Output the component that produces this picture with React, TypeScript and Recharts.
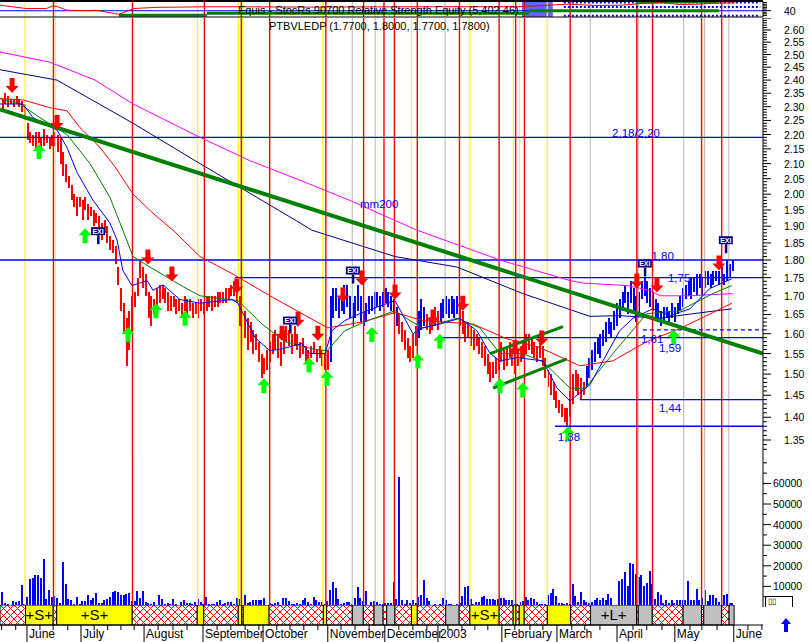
import React from 'react'
import {
    ComposedChart,
    Bar,
    Line,
    Scatter,
    XAxis,
    YAxis,
    ReferenceLine,
    ReferenceArea,
    Cell,
} from 'recharts'

/* ---------- layout ---------- */

const W = 811
const AXIS_W = 48
const X_DOMAIN: [number, number] = [-1, 276]
const P_DOMAIN: [number, number] = [1.318, 2.6504]
const FONT = "'Liberation Sans', Arial, Helvetica, sans-serif"
const BLUE = '#0000ff'
const RED = '#ff0000'
const NAVY = '#000080'
const DKGREEN = '#008000'

/* ---------- sessions: [low, high] ---------- */

const barsMayJun02 = [
    [2.29, 2.33], [2.31, 2.35], [2.30, 2.34], [2.31, 2.33], [2.30, 2.33], [2.31, 2.34], [2.30, 2.33], [2.28, 2.32], [2.25, 2.31],
    [2.18, 2.24], [2.17, 2.21], [2.16, 2.20], [2.15, 2.21], [2.17, 2.21], [2.14, 2.19], [2.16, 2.22], [2.17, 2.20], [2.15, 2.19], [2.16, 2.20],
    [2.16, 2.21], [2.14, 2.20], [2.10, 2.19], [2.06, 2.14], [2.04, 2.10], [2.02, 2.06], [1.98, 2.03], [1.96, 2.00], [1.93, 1.99], [1.96, 1.99],
]
const barsJulAug02 = [
    [1.92, 1.98], [1.95, 1.99], [1.92, 1.97], [1.93, 1.96], [1.90, 1.95], [1.91, 1.94], [1.88, 1.93], [1.86, 1.91], [1.88, 1.92], [1.85, 1.90],
    [1.83, 1.87], [1.82, 1.86], [1.79, 1.84], [1.73, 1.78], [1.66, 1.72], [1.60, 1.68], [1.52, 1.64], [1.56, 1.66], [1.60, 1.70], [1.67, 1.71],
    [1.70, 1.75], [1.75, 1.80], [1.72, 1.78], [1.70, 1.76], [1.64, 1.71], [1.62, 1.70], [1.65, 1.69], [1.66, 1.72], [1.68, 1.73], [1.69, 1.73],
    [1.68, 1.72], [1.66, 1.71], [1.66, 1.70], [1.67, 1.70], [1.65, 1.69], [1.66, 1.69], [1.64, 1.68], [1.66, 1.70], [1.65, 1.69], [1.66, 1.69],
    [1.64, 1.68], [1.65, 1.68], [1.64, 1.69], [1.66, 1.69],
]
const barsSepOct02 = [
    [1.65, 1.68], [1.66, 1.70], [1.67, 1.70], [1.66, 1.70], [1.67, 1.70], [1.67, 1.71], [1.68, 1.71], [1.68, 1.71], [1.68, 1.72], [1.69, 1.72],
    [1.70, 1.73], [1.70, 1.74], [1.68, 1.73], [1.62, 1.70], [1.57, 1.66], [1.59, 1.66], [1.56, 1.64], [1.58, 1.63], [1.55, 1.61], [1.56, 1.60],
    [1.53, 1.58], [1.49, 1.55], [1.50, 1.54], [1.51, 1.56], [1.53, 1.58], [1.55, 1.60], [1.56, 1.61], [1.54, 1.60], [1.52, 1.58], [1.55, 1.61],
    [1.58, 1.62], [1.57, 1.61], [1.55, 1.60], [1.57, 1.62], [1.56, 1.60], [1.54, 1.58], [1.55, 1.59], [1.53, 1.57], [1.52, 1.56], [1.54, 1.57],
    [1.55, 1.58], [1.53, 1.56], [1.54, 1.57], [1.52, 1.56], [1.51, 1.55],
]
const barsNovDec02 = [
    [1.51, 1.56], [1.53, 1.70], [1.64, 1.72], [1.66, 1.72], [1.64, 1.70], [1.66, 1.71], [1.65, 1.73], [1.67, 1.73], [1.64, 1.70], [1.62, 1.68],
    [1.64, 1.70], [1.66, 1.73], [1.63, 1.70], [1.62, 1.66], [1.63, 1.68], [1.65, 1.70], [1.66, 1.70], [1.65, 1.71], [1.67, 1.71], [1.66, 1.70],
    [1.67, 1.71], [1.68, 1.72], [1.67, 1.71], [1.66, 1.70], [1.65, 1.69], [1.62, 1.67], [1.60, 1.65], [1.58, 1.63], [1.56, 1.61], [1.54, 1.59],
    [1.53, 1.57], [1.54, 1.60], [1.57, 1.62], [1.59, 1.66], [1.61, 1.69], [1.62, 1.67], [1.61, 1.65], [1.60, 1.64], [1.61, 1.66], [1.62, 1.67],
]
const barsJanFeb03 = [
    [1.61, 1.66], [1.63, 1.68], [1.64, 1.69], [1.65, 1.70], [1.64, 1.69], [1.65, 1.70], [1.64, 1.69], [1.65, 1.70], [1.62, 1.68], [1.60, 1.66],
    [1.58, 1.63], [1.59, 1.63], [1.57, 1.62], [1.56, 1.61], [1.57, 1.60], [1.55, 1.59], [1.54, 1.58], [1.52, 1.57], [1.50, 1.55], [1.48, 1.53],
    [1.49, 1.53], [1.50, 1.54], [1.51, 1.56], [1.53, 1.58], [1.51, 1.56], [1.52, 1.57], [1.54, 1.58], [1.52, 1.56], [1.50, 1.55], [1.52, 1.56],
    [1.53, 1.57], [1.54, 1.58], [1.55, 1.60], [1.56, 1.60], [1.55, 1.59], [1.54, 1.58], [1.53, 1.57], [1.54, 1.58], [1.52, 1.57], [1.49, 1.54],
    [1.47, 1.51], [1.45, 1.50], [1.44, 1.48], [1.42, 1.46],
]
const barsMarApr03 = [
    [1.41, 1.44], [1.40, 1.43], [1.39, 1.42], [1.38, 1.42], [1.40, 1.46], [1.43, 1.50], [1.46, 1.51], [1.45, 1.50], [1.44, 1.49], [1.45, 1.48],
    [1.47, 1.52], [1.49, 1.54], [1.51, 1.56], [1.53, 1.58], [1.55, 1.59], [1.54, 1.60], [1.57, 1.61], [1.58, 1.63], [1.60, 1.64], [1.59, 1.63],
    [1.61, 1.66], [1.62, 1.68], [1.64, 1.69], [1.66, 1.71], [1.68, 1.73], [1.65, 1.71], [1.68, 1.74], [1.66, 1.72], [1.63, 1.70], [1.65, 1.71],
    [1.69, 1.74], [1.70, 1.75], [1.68, 1.74], [1.67, 1.72], [1.66, 1.71], [1.64, 1.69], [1.63, 1.68], [1.62, 1.66], [1.63, 1.67], [1.64, 1.67],
    [1.63, 1.66], [1.64, 1.68], [1.63, 1.67],
]
const barsMay03 = [
    [1.65, 1.68], [1.66, 1.70], [1.67, 1.72], [1.69, 1.73], [1.70, 1.74], [1.69, 1.75], [1.71, 1.75], [1.70, 1.76], [1.72, 1.76], [1.70, 1.75],
    [1.72, 1.77], [1.73, 1.77], [1.72, 1.76], [1.73, 1.77], [1.74, 1.77], [1.73, 1.77], [1.74, 1.78], [1.73, 1.76], [1.74, 1.80], [1.75, 1.79],
    [1.77, 1.80],
]

// sessions drawn in blue (long side), the rest red
const blueSpans = [[119, 143], [151, 153], [159, 165], [212, 265]]

/* ---------- volume, thousands ---------- */

const volMayJun02 = [7.3, 1.8, 1.3, 0.8, 2.9, 2.6, 3.1, 10.7, 1.6, 4.9, 13.4, 14.3, 15.4, 15.6, 14.3, 23.3, 4.1, 8.1, 4.9, 5.3, 4.5, 2.1, 21.9, 11.2, 3.7, 3.4, 1.6, 4.9, 1.5]
const volJulAug02 = [2.8, 3.1, 5.8, 3.6, 4.5, 6.8, 1.9, 1.9, 3.6, 3.9, 4.7, 7.5, 7.8, 7.1, 5.8, 5.8, 6.5, 6.8, 3.1, 2.9, 7.6, 4.5, 7.6, 2.4, 2.1, 1.3, 2.6, 1.1, 5.8, 3.7, 1.6, 1.8, 1.5, 3.7, 1.5, 1.0, 2.3, 3.2, 2.1, 2.1, 1.3, 2.6, 3.7, 2.6]
const volSepOct02 = [1.6, 5.0, 1.6, 1.5, 1.5, 2.6, 3.4, 1.5, 2.1, 2.6, 2.6, 1.3, 4.2, 4.1, 4.5, 5.8, 1.8, 2.6, 3.6, 3.6, 3.6, 3.2, 4.4, 1.1, 1.9, 1.6, 2.1, 2.4, 1.1, 4.4, 4.4, 3.1, 1.6, 1.5, 1.8, 1.5, 3.2, 4.5, 2.6, 1.6, 5.0, 3.4, 2.4, 2.6, 1.5]
const volNovDec02 = [2.8, 8.4, 12.2, 9.1, 3.9, 1.3, 1.8, 2.4, 2.4, 1.6, 4.5, 9.7, 4.5, 2.9, 7.8, 1.0, 2.4, 2.8, 2.6, 1.5, 1.3, 2.1, 1.8, 2.1, 12.2, 3.9, 63.2, 3.4, 1.5, 3.4, 2.1, 3.4, 1.8, 5.0, 5.8, 13.1, 4.4, 3.1, 1.1, 1.5]
const volJanFeb03 = [0.8, 1.6, 4.5, 3.2, 1.6, 1.3, 1.1, 1.6, 2.1, 5.2, 9.9, 10.2, 3.9, 1.5, 2.3, 2.6, 4.7, 5.3, 4.1, 3.7, 3.9, 3.6, 3.9, 4.4, 4.4, 3.6, 3.2, 3.6, 1.6, 1.3, 2.6, 2.9, 4.9, 3.4, 4.2, 4.1, 2.6, 1.3, 1.3, 1.5, 5.7, 6.8, 8.6, 5.2]
const volMarApr03 = [1.9, 2.1, 1.5, 2.1, 1.3, 11.2, 5.3, 2.6, 7.3, 3.2, 2.4, 1.9, 2.4, 3.6, 4.4, 3.2, 4.4, 3.4, 6.2, 4.5, 0.5, 0.5, 12.6, 13.4, 17.0, 10.4, 21.2, 20.7, 16.2, 14.6, 15.7, 10.2, 11.7, 17.5, 11.3, 3.7, 7.1, 5.8, 2.1, 3.4, 2.1, 3.2, 2.1]
const volMay03 = [3.6, 3.2, 3.4, 3.4, 12.5, 3.6, 3.6, 8.6, 3.6, 4.2, 8.1, 2.9, 5.8, 5.8, 4.2, 2.3, 0.5, 6.0, 6.2, 2.1, 2.1]

/* ---------- averages: [session, value] ---------- */

const mm200 = [[-1, 2.51], [17, 2.47], [33.5, 2.40], [47.3, 2.31], [71.6, 2.19], [89.7, 2.11], [107.9, 2.045], [126, 1.98], [150.4, 1.888], [180.5, 1.80], [205.9, 1.742], [210.5, 1.735], [226.6, 1.728], [235, 1.715], [238.6, 1.70], [249.5, 1.70], [265, 1.706]]
const mm100 = [[-1, 2.44], [19.7, 2.40], [47.3, 2.24], [71.6, 2.10], [107.9, 1.91], [112.2, 1.888], [142.4, 1.81], [164.9, 1.78], [188.8, 1.706], [213.2, 1.645], [224, 1.647], [238.6, 1.64], [248.4, 1.65], [264.7, 1.665]]
const mm50 = [[-1, 2.33], [7.4, 2.325], [17.6, 2.295], [23.3, 2.285], [28, 2.225], [35.3, 2.155], [40.7, 2.09], [47.3, 2.00], [54.5, 1.94], [61.8, 1.888], [71.6, 1.81], [83.6, 1.76], [97, 1.70], [107.9, 1.655], [118, 1.615], [130.4, 1.63], [142.4, 1.655], [152.5, 1.634], [170.7, 1.625], [183, 1.587], [195, 1.565], [209.5, 1.52], [221.5, 1.532], [233.8, 1.58], [245.8, 1.613], [257.8, 1.655], [264.7, 1.68]]
const mm20 = [[-1, 2.33], [6.3, 2.31], [13.5, 2.26], [23.3, 2.20], [31.7, 2.10], [38.9, 1.99], [43.6, 1.888], [47.3, 1.81], [53.4, 1.78], [64.3, 1.73], [71.6, 1.70], [81.8, 1.69], [85.4, 1.687], [94.1, 1.625], [102.4, 1.58], [112.2, 1.562], [117.7, 1.557], [124.2, 1.608], [132.6, 1.634], [142.4, 1.66], [147.8, 1.634], [152.5, 1.615], [164.9, 1.64], [173.2, 1.615], [180.5, 1.55], [188.8, 1.55], [196.1, 1.53], [205.9, 1.467], [211.3, 1.465], [221.5, 1.55], [233.8, 1.652], [245.8, 1.66], [257.8, 1.706], [264.7, 1.728]]
const mm10 = [[-1, 2.31], [7.3, 2.31], [11, 2.26], [19.7, 2.216], [23.3, 2.155], [27, 2.07], [32.8, 1.98], [38.9, 1.91], [41.5, 1.858], [43.6, 1.77], [46.9, 1.728], [52.4, 1.742], [54.5, 1.715], [58.2, 1.73], [64.3, 1.69], [71.6, 1.68], [83.2, 1.69], [85.4, 1.68], [91.6, 1.59], [97, 1.557], [101.4, 1.562], [108.6, 1.575], [111.5, 1.55], [117, 1.55], [119.5, 1.608], [124.2, 1.634], [130.4, 1.655], [142.4, 1.687], [148.9, 1.60], [152.5, 1.615], [158.7, 1.625], [166, 1.64], [172.1, 1.608], [176.9, 1.55], [180.5, 1.532], [186.7, 1.54], [196.1, 1.532], [201.2, 1.467], [205.9, 1.437], [213.2, 1.475], [217.9, 1.532], [224, 1.608], [228.8, 1.64], [236, 1.665], [242.2, 1.647], [249.5, 1.665], [256.7, 1.72], [264.7, 1.747]]

const trendMain = [[-1, 2.29], [276, 1.55]]
const trendFebUpper = [[176.9, 1.55], [203.4, 1.618]]
const trendFebLower = [[178, 1.467], [204.8, 1.537]]

/* ---------- levels ---------- */

const levels = [
    { from: -1, y: 2.19 },
    { from: -1, y: 1.80 },
    { from: 84.3, y: 1.75 },
    { from: 159.8, y: 1.59 },
    { from: 209.5, y: 1.44 },
    { from: 200.5, y: 1.38 },
]
const dashedLevels = [{ from: 232.4, y: 1.61 }]
const levelNotes = [
    { x: 221.2, y: 2.205, t: '2,18/2,20' },
    { x: 129.7, y: 1.969, t: 'mm200' },
    { x: 235.5, y: 1.812, t: '1,80' },
    { x: 241.5, y: 1.749, t: '1,75' },
    { x: 231.7, y: 1.587, t: '1,61' },
    { x: 238.2, y: 1.564, t: '1,59' },
    { x: 238.2, y: 1.421, t: '1,44' },
    { x: 201.5, y: 1.356, t: '1,38' },
]

/* ---------- signals ---------- */

const sellArrows = [[3.4, 2.351], [19.7, 2.216], [52.7, 1.787], [61.4, 1.739], [85, 1.706], [101.4, 1.582], [107.2, 1.618], [114.4, 1.582], [123.5, 1.682], [130.4, 1.728], [142.4, 1.69], [156.2, 1.624], [167, 1.66], [186, 1.545], [195.7, 1.57], [230.2, 1.72], [237.5, 1.709], [260, 1.77]]
const buyArrows = [[13.2, 2.167], [29.9, 1.894], [45.5, 1.617], [55.6, 1.68], [66.2, 1.66], [94.8, 1.49], [111.2, 1.54], [117.7, 1.508], [134, 1.617], [150.7, 1.55], [158.7, 1.60], [180.5, 1.49], [188.8, 1.48], [205.2, 1.38], [243.6, 1.61]]
const exitMarks = [[34.6, 1.885], [104.3, 1.634], [127.1, 1.77], [233.1, 1.79], [262.5, 1.858]]

/* ---------- vertical markers ---------- */

const yellowLines = [8.1, 19.1, 70.7, 85.5, 87.1, 116.2, 148.4, 169.6, 185.4, 187.6, 197.7]
const redLines = [18.4, 47.1, 73.2, 86.6, 96.9, 117.3, 131, 138.4, 142.2, 150.5, 165.8, 180.2, 186.2, 189.4, 206, 230.2, 235.9, 253.7, 261]
const grayLines = [126.9, 135.2, 160.6, 213.3, 230.7, 247.2, 254.8, 263.6]

/* ---------- bottom band: [from, to, kind, label] ---------- */

const bandSegments: [number, number, string, string][] = [
    [-1, 8.3, 'R', ''], [8.3, 18.3, 'Y', '+S+'], [18.3, 19.6, 'R', ''], [19.6, 47, 'Y', '+S+'], [47, 70.6, 'R', ''],
    [70.6, 73, 'Y', ''], [73, 85.5, 'R', ''], [85.5, 86.7, 'Y', ''], [86.7, 87.3, 'R', ''], [87.3, 96.7, 'Y', ''],
    [96.7, 116.4, 'R', ''], [116.4, 117.6, 'Y', ''], [117.6, 126.9, 'R', ''], [126.9, 130.9, 'G', ''], [130.9, 134.8, 'R', ''],
    [134.8, 138.1, 'G', ''], [138.1, 139.4, 'R', ''], [139.4, 142.4, 'G', ''], [142.4, 148.4, 'R', ''], [148.4, 150.5, 'Y', ''],
    [150.5, 160.8, 'R', ''], [160.8, 165.7, 'G', ''], [165.7, 169.6, 'R', ''], [169.6, 180.2, 'Y', '+S+'], [180.2, 185.3, 'R', ''],
    [185.3, 186.3, 'Y', ''], [186.3, 187.5, 'R', ''], [187.5, 189.3, 'Y', ''], [189.3, 197.7, 'R', ''], [197.7, 206.2, 'Y', ''],
    [206.2, 213.4, 'R', ''], [213.4, 230.1, 'G', '+L+'], [230.1, 230.7, 'R', ''], [230.7, 235.8, 'G', ''], [235.8, 247, 'R', ''],
    [247, 253.7, 'G', ''], [253.7, 254.5, 'R', ''], [254.5, 261, 'G', ''], [261, 263.7, 'R', ''], [263.7, 265.5, 'G', ''],
]

/* ---------- time axis ---------- */

const monthTicks = [8.8, 28.4, 51.3, 72.7, 94.5, 118, 138.7, 158, 181.2, 201.2, 223, 244, 265.4]
const monthLabels = ['June', 'July', 'August', 'September', 'October', 'November', 'December', '2003', 'February', 'March', 'April', 'May', 'June']
const weekTicks = [-0.4, 4.7, 13.5, 18.3, 23.6, 33.2, 38.1, 42.9, 47.7, 56.4, 61.8, 66.9, 77.8, 82.8, 88, 93, 99.5, 104.3, 109.3, 114.4, 122.8, 127.9, 133, 143.8, 148.9, 154, 161.6, 166.7, 171.4, 176.1, 185.9, 191.4, 196.1, 206.6, 211.3, 216.8, 228.8, 233.8, 239.3, 249.5, 253.8, 259.3, 270.5, 275.6]

/* ---------- top indicator strip ---------- */

const stripRed = [[-1, 74], [8.4, 53], [15.9, 53], [17.9, 68], [19.7, 66], [23.3, 42], [29.9, 40], [33.8, 42], [42.2, 17], [47.6, 53], [55.3, 60], [74.1, 64], [85.4, 64], [110, 62], [150, 64], [186.7, 64], [205.5, 80], [215, 72], [224.4, 74], [232, 84], [239.3, 89], [246, 78], [252.4, 80], [258, 86], [265.8, 89]]
const stripGreen = [
    { from: 42.2, to: 74.1, y: 11 },
    { from: 74.1, to: 191, y: 23 },
    { from: 191, to: 260, y: 39 },
    { from: 229.8, to: 260, y: 95 },
]
const stripDotted = [90, 62, 8]

/* ---------- helpers ---------- */

const asPts = (a: number[][]) => a.map(([x, v]) => ({ x, v }))
const isBlue = (i: number) => blueSpans.some(([a, b]) => i >= a && i <= b)

const priceData = [
    ...barsMayJun02, ...barsJulAug02, ...barsSepOct02, ...barsNovDec02, ...barsJanFeb03, ...barsMarApr03, ...barsMay03,
].map((r, i) => ({ x: i, r }))

const volData = [
    ...volMayJun02, ...volJulAug02, ...volSepOct02, ...volNovDec02, ...volJanFeb03, ...volMarApr03, ...volMay03,
].map((v, i) => ({ x: i, v }))

// the band chart carries one dummy row per segment so its axes have a data domain
const bandData = bandSegments.map(([a]) => ({ x: a, v: 0.5 }))

const priceTicks: number[] = []
for (let c = 133; c <= 265; c++) priceTicks.push(c / 100)
const volTicks = [5, 10, 15, 20, 25, 30, 35, 40, 45, 50, 55, 60, 65, 70]

const vLines = (k: string) => [
    ...yellowLines.map((x) => <ReferenceLine key={`${k}y${x}`} x={x} stroke="#ffff00" strokeWidth={1.2} />),
    ...grayLines.map((x) => <ReferenceLine key={`${k}g${x}`} x={x} stroke="#c0c0c0" strokeWidth={1.2} />),
    ...redLines.map((x) => <ReferenceLine key={`${k}r${x}`} x={x} stroke={RED} strokeWidth={1.4} />),
]

/* ---------- ticks and shapes ---------- */

const PriceTick = (props: any) => {
    const { x, y, payload } = props
    const c = Math.round(payload.value * 100)
    const major = c % 5 === 0
    return (
        <g>
            <line x1={x} y1={y} x2={x + (major ? 8 : 4)} y2={y} stroke="#000" />
            {major && c <= 260 && c >= 135 && (
                <text x={x + 21} y={y + 4} fontSize={10.5} fill="#000" fontFamily={FONT}>
                    {(c / 100).toFixed(2)}
                </text>
            )}
        </g>
    )
}

const VolTick = (props: any) => {
    const { x, y, payload } = props
    const v = payload.value
    const major = v % 10 === 0 && v <= 60
    return (
        <g>
            <line x1={x} y1={y} x2={x + (major ? 8 : 4)} y2={y} stroke="#000" />
            {major && (
                <text x={x + 10} y={y + 4} fontSize={10.5} fill="#000" fontFamily={FONT}>
                    {v * 1000}
                </text>
            )}
        </g>
    )
}

const StripTick = (props: any) => {
    const { x, y, payload } = props
    const major = payload.value === 40
    return (
        <g>
            <line x1={x} y1={y} x2={x + (major ? 8 : 4)} y2={y} stroke="#000" />
            {major && (
                <text x={x + 21} y={y + 4} fontSize={10.5} fill="#000" fontFamily={FONT}>40</text>
            )}
        </g>
    )
}

const TimeTick = (props: any) => {
    const { x, y, payload } = props
    const m = monthTicks.findIndex((t) => Math.abs(t - payload.value) < 0.01)
    if (m < 0) return <line x1={x} y1={y} x2={x} y2={y + 5} stroke="#000" />
    return (
        <g>
            <line x1={x} y1={y} x2={x} y2={y + 17} stroke="#000" />
            <text x={x + 2} y={y + 13} fontSize={12} fill="#000" fontFamily={FONT}>{monthLabels[m]}</text>
        </g>
    )
}

// crisp 2px session / volume bar
const SessionBar = (p: any) => {
    const { x, y, width, height, fill } = p
    if (x == null || y == null || width == null || height == null) return null
    const cx = Math.round(x + width / 2)
    const top = Math.min(y, y + height)
    const h = Math.max(1, Math.abs(height))
    return <rect x={cx - 1} y={top} width={2} height={h} fill={fill} shapeRendering="crispEdges" />
}

const SellArrow = (p: any) => (
    <path d={`M${p.cx - 2.5},${p.cy - 15} h5 v8 h4 l-6.5,7 l-6.5,-7 h4 z`} fill={RED} />
)
const BuyArrow = (p: any) => (
    <path d={`M${p.cx},${p.cy} l6.5,7 h-4 v8 h-5 v-8 h-4 z`} fill="#00ff00" />
)
const ExitMark = (p: any) => (
    <g>
        <rect x={p.cx - 7} y={p.cy - 4} width={14} height={8} fill={NAVY} />
        <text x={p.cx} y={p.cy + 2.6} fontSize={7} fontWeight="bold" fill="#fff" textAnchor="middle" fontFamily={FONT}>EXI</text>
        <rect x={p.cx - 1} y={p.cy + 4} width={2.5} height={9} fill={NAVY} />
    </g>
)
const NoteText = (p: any) => (
    <text x={p.cx} y={p.cy + 4} fontSize={11.5} fill={BLUE} fontFamily={FONT}>{p.payload.t}</text>
)

/* ---------- component ---------- */

const App: React.FC = () => {
    const bandFill = (k: string) => (k === 'R' ? 'url(#hatch)' : k === 'Y' ? '#ffff00' : '#c0c0c0')

    return (
        <div style={{ position: 'relative', width: W, height: 642, background: '#fff', overflow: 'hidden', fontFamily: FONT }}>
            <style>{'body{margin:0}'}</style>
            <svg width={0} height={0} style={{ position: 'absolute' }}>
                <defs>
                    <pattern id="hatch" width="7" height="7" patternUnits="userSpaceOnUse">
                        <rect width="7" height="7" fill="#fff" />
                        <path d="M0,0 L7,7 M7,0 L0,7" stroke={RED} strokeWidth="1" />
                    </pattern>
                </defs>
            </svg>

            {/* top indicator strip */}
            <div style={{ position: 'absolute', left: 0, top: 0 }}>
                <ComposedChart width={W} height={18} margin={{ top: 1, right: 0, bottom: 1, left: 0 }}>
                    <XAxis type="number" dataKey="x" domain={X_DOMAIN} hide allowDataOverflow />
                    <YAxis orientation="right" width={AXIS_W} domain={[0, 100]} ticks={[10, 20, 30, 40, 50, 60, 70, 80, 90]}
                        interval={0} tickSize={0} tickMargin={0} tickLine={false} tick={StripTick} axisLine={{ stroke: '#000' }} allowDataOverflow />
                    {vLines('s')}
                    <ReferenceArea x1={188.5} x2={199.7} y1={0} y2={100} fill={BLUE} fillOpacity={0.6} />
                    {stripDotted.map((y) => (
                        <ReferenceLine key={`d${y}`} segment={[{ x: 203.7, y }, { x: 275, y }]} stroke={BLUE} strokeWidth={2} strokeDasharray="2 2" />
                    ))}
                    <ReferenceLine y={39} stroke={BLUE} strokeWidth={1.2} />
                    {stripGreen.map((g) => (
                        <ReferenceLine key={`sg${g.from}`} segment={[{ x: g.from, y: g.y }, { x: g.to, y: g.y }]} stroke={DKGREEN} strokeWidth={3} />
                    ))}
                    <Line data={asPts(stripRed)} dataKey="v" type="linear" stroke={RED} strokeWidth={1} dot={false} isAnimationActive={false} />
                    <ReferenceLine y={100} stroke="#000" strokeWidth={2} />
                    <ReferenceLine y={0} stroke="#000" strokeWidth={1} />
                </ComposedChart>
            </div>

            {/* price panel */}
            <div style={{ position: 'absolute', left: 0, top: 18 }}>
                <ComposedChart width={W} height={437} data={priceData} margin={{ top: 0, right: 0, bottom: 0, left: 0 }}>
                    <XAxis type="number" dataKey="x" domain={X_DOMAIN} hide allowDataOverflow />
                    <YAxis orientation="right" width={AXIS_W} scale="log" domain={P_DOMAIN} allowDataOverflow ticks={priceTicks}
                        interval={0} tickSize={0} tickMargin={0} tickLine={false} tick={PriceTick} axisLine={{ stroke: '#000' }} />
                    {vLines('p')}
                    {levels.map((l) => (
                        <ReferenceLine key={`l${l.y}`} segment={[{ x: l.from, y: l.y }, { x: 276, y: l.y }]} stroke={BLUE} strokeWidth={1.4} />
                    ))}
                    {dashedLevels.map((l) => (
                        <ReferenceLine key={`dl${l.y}`} segment={[{ x: l.from, y: l.y }, { x: 276, y: l.y }]} stroke={BLUE} strokeWidth={1.2} strokeDasharray="4 3" />
                    ))}
                    <Bar dataKey="r" barSize={2} shape={SessionBar} isAnimationActive={false}>
                        {priceData.map((d) => (
                            <Cell key={d.x} fill={isBlue(d.x) ? BLUE : RED} />
                        ))}
                    </Bar>
                    <Line data={asPts(mm200)} dataKey="v" type="linear" stroke="#ff00ff" strokeWidth={1} dot={false} isAnimationActive={false} />
                    <Line data={asPts(mm100)} dataKey="v" type="linear" stroke={NAVY} strokeWidth={1} dot={false} isAnimationActive={false} />
                    <Line data={asPts(mm50)} dataKey="v" type="linear" stroke={RED} strokeWidth={1} dot={false} isAnimationActive={false} />
                    <Line data={asPts(mm20)} dataKey="v" type="linear" stroke={DKGREEN} strokeWidth={1} dot={false} isAnimationActive={false} />
                    <Line data={asPts(mm10)} dataKey="v" type="linear" stroke={BLUE} strokeWidth={1} dot={false} isAnimationActive={false} />
                    <Line data={asPts(trendMain)} dataKey="v" type="linear" stroke={DKGREEN} strokeWidth={4} dot={false} isAnimationActive={false} />
                    <Line data={asPts(trendFebUpper)} dataKey="v" type="linear" stroke={DKGREEN} strokeWidth={3} dot={false} isAnimationActive={false} />
                    <Line data={asPts(trendFebLower)} dataKey="v" type="linear" stroke={DKGREEN} strokeWidth={3} dot={false} isAnimationActive={false} />
                    <Scatter data={asPts(sellArrows)} dataKey="v" shape={SellArrow} isAnimationActive={false} />
                    <Scatter data={asPts(buyArrows)} dataKey="v" shape={BuyArrow} isAnimationActive={false} />
                    <Scatter data={asPts(exitMarks)} dataKey="v" shape={ExitMark} isAnimationActive={false} />
                    <Scatter data={levelNotes.map((n) => ({ x: n.x, v: n.y, t: n.t }))} dataKey="v" shape={NoteText} isAnimationActive={false} />
                </ComposedChart>
            </div>

            {/* volume panel */}
            <div style={{ position: 'absolute', left: 0, top: 455 }}>
                <ComposedChart width={W} height={152} data={volData} margin={{ top: 0, right: 0, bottom: 0, left: 0 }}>
                    <XAxis type="number" dataKey="x" domain={X_DOMAIN} hide allowDataOverflow />
                    <YAxis orientation="right" width={AXIS_W} domain={[0, 73.8]} allowDataOverflow ticks={volTicks}
                        interval={0} tickSize={0} tickMargin={0} tickLine={false} tick={VolTick} axisLine={{ stroke: '#000' }} />
                    {vLines('v')}
                    <Bar dataKey="v" barSize={2} fill={BLUE} shape={SessionBar} isAnimationActive={false} />
                </ComposedChart>
            </div>

            {/* signal band and time axis */}
            <div style={{ position: 'absolute', left: 0, top: 605 }}>
                <ComposedChart width={W} height={37} data={bandData} margin={{ top: 0, right: AXIS_W, bottom: 0, left: 0 }}>
                    <XAxis type="number" dataKey="x" domain={X_DOMAIN} allowDataOverflow height={17}
                        ticks={[...weekTicks, ...monthTicks].sort((a, b) => a - b)} interval={0}
                        tickSize={0} tickMargin={0} tickLine={false} tick={TimeTick} axisLine={{ stroke: '#000' }} />
                    <YAxis hide type="number" domain={[0, 1]} allowDataOverflow />
                    {bandSegments.map(([a, b, k, t]) => (
                        <ReferenceArea key={`b${a}`} x1={a} x2={b} y1={0} y2={1} fill={bandFill(k)} fillOpacity={1}
                            stroke="#000" strokeWidth={1} ifOverflow="visible"
                            label={t ? { value: t, position: 'center', fontSize: 15, fill: '#000', fontFamily: FONT } : undefined} />
                    ))}
                </ComposedChart>
            </div>

            {/* titles */}
            <div style={{ position: 'absolute', left: 238, top: 4, fontSize: 11, lineHeight: '13px', whiteSpace: 'nowrap', color: '#000' }}>
                Equis - StocRs 90700 Relative Strength Equity (5,402.46)
            </div>
            <div style={{ position: 'absolute', left: 269, top: 19, fontSize: 11, lineHeight: '14px', whiteSpace: 'nowrap', color: '#000' }}>
                PTBVLEDP (1.7700, 1.8000, 1.7700, 1.7800)
            </div>
            <div style={{ position: 'absolute', left: 765, top: 596, width: 24, height: 10, borderTop: '1px solid #000', borderLeft: '1px solid #000', borderRight: '1px solid #000', fontSize: 8, lineHeight: '9px', paddingLeft: 2 }}>
                ▯▯
            </div>
            <svg width={12} height={14} style={{ position: 'absolute', left: 780, top: 618 }}>
                <path d="M6,0 L11,6 H8 V14 H4 V6 H1 Z" fill={BLUE} />
            </svg>
        </div>
    )
}

export default App
